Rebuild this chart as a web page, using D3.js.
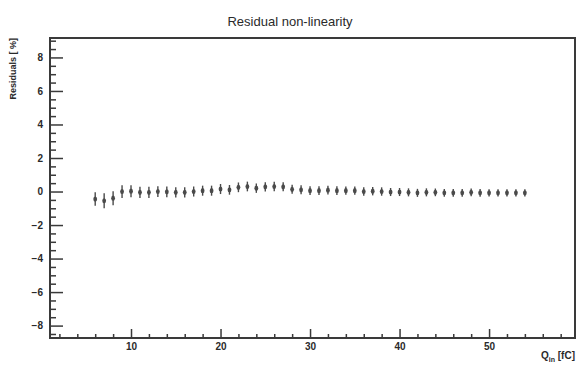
<!DOCTYPE html>
<html>
<head>
<meta charset="utf-8">
<script src="https://cdn.jsdelivr.net/npm/d3@7"></script>
<style>
  body { margin: 0; background: #fff; }
  svg text { font-family: "Liberation Sans", Arial, sans-serif; fill: #2a2a2a; }
</style>
</head>
<body>
<div id="chart"></div>
<script>
// charge points Q_in [fC]
var qIn = [6, 7, 8, 9, 10, 11, 12, 13, 14, 15, 16, 17, 18, 19, 20, 21, 22, 23, 24, 25,
           26, 27, 28, 29, 30, 31, 32, 33, 34, 35, 36, 37, 38, 39, 40, 41, 42, 43, 44, 45,
           46, 47, 48, 49, 50, 51, 52, 53, 54];
// residuals [%]
var residuals = [-0.45, -0.55, -0.4, 0.0, 0.02, -0.05, -0.05, 0.0, -0.02, -0.05, -0.05, 0.0, 0.05, 0.05, 0.15, 0.1, 0.25, 0.3, 0.2, 0.28,
                 0.3, 0.28, 0.13, 0.1, 0.05, 0.05, 0.08, 0.05, 0.05, 0.05, 0.0, 0.02, 0.0, -0.03, -0.03, -0.05, -0.08, -0.05, -0.05, -0.08,
                 -0.08, -0.08, -0.05, -0.08, -0.08, -0.08, -0.08, -0.08, -0.08];
// error on residual [%]
var errors = [0.4, 0.45, 0.42, 0.38, 0.36, 0.34, 0.33, 0.32, 0.32, 0.31, 0.31, 0.3, 0.3, 0.3, 0.3, 0.29, 0.29, 0.29, 0.28, 0.28,
              0.28, 0.27, 0.27, 0.27, 0.26, 0.26, 0.26, 0.26, 0.25, 0.25, 0.25, 0.25, 0.25, 0.24, 0.24, 0.24, 0.24, 0.24, 0.23, 0.23,
              0.23, 0.23, 0.23, 0.23, 0.22, 0.22, 0.22, 0.22, 0.22];
var xMajor = [10, 20, 30, 40, 50];
var yMajor = [-8, -6, -4, -2, 0, 2, 4, 6, 8];
var title = "Residual non-linearity";

var W = 580, H = 368;
var frame = { left: 50, right: 575, top: 38, bottom: 338 };

var svg = d3.select("#chart").append("svg")
  .attr("width", W)
  .attr("height", H);

var x = d3.scaleLinear().domain([0.95, 59.6]).range([frame.left, frame.right]);
var y = d3.scaleLinear().domain([-8.74, 9.16]).range([frame.bottom, frame.top]);

// minor ticks
var xMinor = d3.range(2, 60, 2).filter(function(d){ return xMajor.indexOf(d) < 0; });
var yMinor = d3.range(-8.5, 9.01, 0.5).filter(function(d){ return yMajor.indexOf(d) < 0; });

function styleAxis(g) {
  g.select(".domain").remove();
  g.selectAll("line").attr("stroke", "#3a3a3a").attr("stroke-width", 1.5);
  g.selectAll("text").attr("font-size", 10).attr("font-weight", "bold").attr("fill", "#2a2a2a");
}

svg.append("g")
  .attr("transform", "translate(" + frame.left + ",0)")
  .call(d3.axisLeft(y).tickValues(yMajor).tickSize(-13).tickPadding(7).tickFormat(d3.format("d")))
  .call(styleAxis);
svg.append("g")
  .attr("transform", "translate(" + frame.left + ",0)")
  .call(d3.axisLeft(y).tickValues(yMinor).tickSize(-6).tickFormat(""))
  .call(styleAxis);

svg.append("g")
  .attr("transform", "translate(0," + frame.bottom + ")")
  .call(d3.axisBottom(x).tickValues(xMajor).tickSize(-9).tickPadding(5).tickFormat(d3.format("d")))
  .call(styleAxis);
svg.append("g")
  .attr("transform", "translate(0," + frame.bottom + ")")
  .call(d3.axisBottom(x).tickValues(xMinor).tickSize(-4).tickFormat(""))
  .call(styleAxis);

// frame
svg.append("rect")
  .attr("x", frame.left)
  .attr("y", frame.top)
  .attr("width", frame.right - frame.left)
  .attr("height", frame.bottom - frame.top)
  .attr("fill", "none")
  .attr("stroke", "#3a3a3a")
  .attr("stroke-width", 2);

// points with error bars
var pts = svg.append("g").selectAll("g")
  .data(qIn)
  .enter()
  .append("g");

pts.append("line")
  .attr("x1", function(d){ return x(d); })
  .attr("x2", function(d){ return x(d); })
  .attr("y1", function(d, i){ return y(residuals[i] - errors[i]); })
  .attr("y2", function(d, i){ return y(residuals[i] + errors[i]); })
  .attr("stroke", "#4a4a4a")
  .attr("stroke-width", 1.4);

pts.append("ellipse")
  .attr("cx", function(d){ return x(d); })
  .attr("cy", function(d, i){ return y(residuals[i]); })
  .attr("rx", 1.9)
  .attr("ry", 2.6)
  .attr("fill", "#4a4a4a");

// title
svg.append("text")
  .attr("x", 290)
  .attr("y", 26)
  .attr("text-anchor", "middle")
  .attr("font-size", 13)
  .text(title);

// y axis title
svg.append("text")
  .attr("transform", "translate(16," + frame.top + ") rotate(-90)")
  .attr("text-anchor", "end")
  .attr("font-size", 9)
  .attr("font-weight", "bold")
  .text("Residuals [ %]");

// x axis title
var xt = svg.append("text")
  .attr("x", frame.right)
  .attr("y", 359)
  .attr("text-anchor", "end")
  .attr("font-size", 10)
  .attr("font-weight", "bold");
xt.append("tspan").text("Q");
xt.append("tspan").attr("font-size", 7).attr("dy", 3).text("in");
xt.append("tspan").attr("dy", -3).text(" [fC]");
</script>
</body>
</html>
